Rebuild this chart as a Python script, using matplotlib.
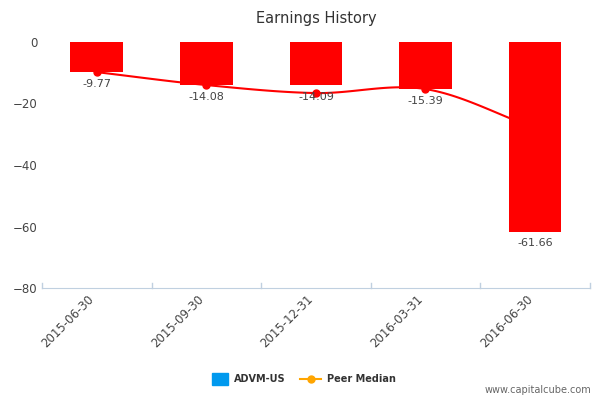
import matplotlib.pyplot as plt
import numpy as np

dates = ["2015-06-30", "2015-09-30", "2015-12-31", "2016-03-31", "2016-06-30"]
advm = [-9.77, -14.08, -14.09, -15.39, -61.66]
peer = [-9.8, -14.0, -16.6, -15.3, -28.0]


def smooth(xs, ys, n=30):
    # catmull-rom curve through the points (render only)
    px = np.concatenate([[2 * xs[0] - xs[1]], xs, [2 * xs[-1] - xs[-2]]])
    py = np.concatenate([[2 * ys[0] - ys[1]], ys, [2 * ys[-1] - ys[-2]]])
    ox, oy = [], []
    for i in range(1, len(px) - 2):
        t = np.linspace(0, 1, n)
        for p, o in ((px, ox), (py, oy)):
            p0, p1, p2, p3 = p[i - 1], p[i], p[i + 1], p[i + 2]
            o.extend(0.5 * (2 * p1 + (-p0 + p2) * t + (2 * p0 - 5 * p1 + 4 * p2 - p3) * t ** 2
                            + (-p0 + 3 * p1 - 3 * p2 + p3) * t ** 3))
    return ox, oy


fig = plt.figure(figsize=(6, 4), dpi=100)
ax = fig.add_axes([0.07, 0.28, 0.913, 0.615])
x = np.arange(len(dates))
ax.bar(x, advm, width=0.48, color="#ff0000", zorder=3)
sx, sy = smooth(x.astype(float), np.array(peer))
ax.plot(sx, sy, color="#ff0000", lw=1.5, zorder=2)
ax.plot(x[:-1], peer[:-1], "o", color="#ff0000", ms=5, zorder=4)
for xi, v in zip(x, advm):
    ax.text(xi, v - 2.2, f"{v:.2f}", ha="center", va="top", fontsize=8, color="#444444", zorder=5)

ax.set_xlim(-0.5, len(dates) - 0.5)
ax.set_ylim(-80, 0)
ax.set_yticks([0, -20, -40, -60, -80])
ax.set_xticks(x)
ax.set_xticklabels(dates, rotation=45, ha="right", fontsize=8.5, color="#444444")
ax.tick_params(axis="y", labelsize=8.5, colors="#444444", length=0)
ax.tick_params(axis="x", length=0)
for xb in np.arange(-0.5, len(dates), 1):
    ax.plot([xb, xb], [-80, -78.3], color="#c0d0e0", lw=1, clip_on=False)
for s in ["top", "right", "left"]:
    ax.spines[s].set_visible(False)
ax.spines["bottom"].set_color("#c0d0e0")
ax.set_title("Earnings History", fontsize=10.5, color="#333333", pad=14)

fig.patches.append(plt.Rectangle((0.353, 0.037), 0.027, 0.03, color="#0099ee", transform=fig.transFigure))
fig.text(0.39, 0.052, "ADVM-US", fontsize=7, weight="bold", color="#333333", va="center")
fig.lines.append(plt.Line2D([0.5, 0.535], [0.052, 0.052], color="#ffa500", lw=1.5, transform=fig.transFigure))
fig.lines.append(plt.Line2D([0.5175], [0.052], marker="o", ms=5, color="#ffa500", transform=fig.transFigure))
fig.text(0.545, 0.052, "Peer Median", fontsize=7, weight="bold", color="#333333", va="center")
fig.text(0.985, 0.018, "www.capitalcube.com", fontsize=7, color="#666666", ha="right")
fig.savefig("out.png")
